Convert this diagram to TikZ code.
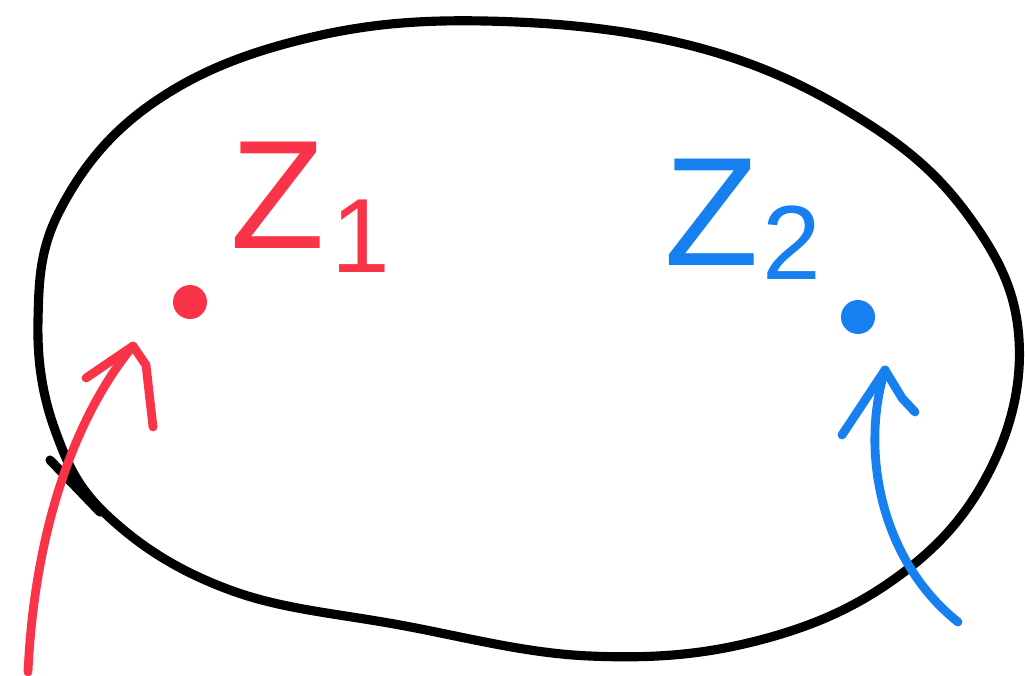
\documentclass[tikz,border=0pt]{standalone}
\usepackage{fontspec}
\setmainfont{Liberation Sans}
\begin{document}
\begin{tikzpicture}[x=0.01cm,y=-0.01cm, line cap=round, line join=round]
\definecolor{zred}{RGB}{250,52,72}
\definecolor{zblue}{RGB}{22,128,240}
\tikzset{
  outline/.style={line width=2.6pt, black},
  redpen/.style={line width=2.5pt, zred},
  bluepen/.style={line width=2.5pt, zblue},
  zlabel/.style={inner sep=0pt, font=\fontsize{44}{44}\selectfont},
  sub/.style={inner sep=0pt, font=\fontsize{30}{30}\selectfont},
  dot/.style={circle, inner sep=0pt, minimum size=0.34cm}
}
\useasboundingbox (0,0) rectangle (1025,675);
% region outline
\draw[outline] plot[smooth cycle, tension=0.65] coordinates {(485,21) (700,48) (870,125) (975,225) (1019,340) (990,470) (900,575) (760,640) (590,656) (400,625) (230,590) (110,518) (55,430) (38,320) (60,210) (150,105) (300,40)};
\coordinate (tickA) at (50,460);
\coordinate (tickB) at (100,512);
\draw[outline] (tickA) -- (tickB);
% points
\node[dot, fill=zred] (p1) at (190,302) {};
\node[dot, fill=zblue] (p2) at (858,317) {};
% labels
\node[zlabel, text=zred] (l1) at (278,195) {Z};
\node[sub, text=zred, anchor=west] (s1) at ([xshift=0.05cm]l1.east |- 0,236) {1};
\node[zlabel, text=zblue] (l2) at (712,212) {Z};
\node[sub, text=zblue, anchor=west] (s2) at ([xshift=0.02cm]l2.east |- 0,243) {2};
% red arrow
\coordinate (r0) at (28,672);
\coordinate (r1) at (133,346);
\draw[redpen] (r0) .. controls (35,520) and (80,410) .. (r1);
\draw[redpen] (86,378) -- (r1) -- (146,365) -- (153,427);
% blue arrow
\coordinate (b0) at (958,622);
\coordinate (b1) at (885,370);
\draw[bluepen] (b0) .. controls (880,560) and (860,450) .. (b1);
\draw[bluepen] (842,435) -- (b1) -- (902,398) -- (915,412);
\end{tikzpicture}
\end{document}
